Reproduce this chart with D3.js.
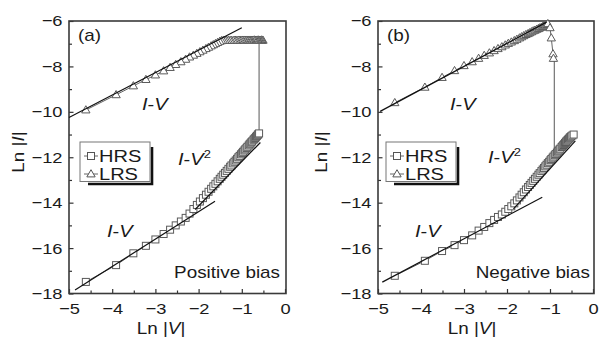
<!DOCTYPE html>
<html>
<head>
<meta charset="utf-8">
<script src="https://cdn.jsdelivr.net/npm/d3@7"></script>
<style>
  body { margin: 0; background: #fff; }
  svg text { font-family: "Liberation Sans", Arial, sans-serif; fill: #1a1a1a; }
</style>
</head>
<body>
<svg width="601" height="343"></svg>
<script>
// tick values shared by both panels
let xTicks = [-5, -4, -3, -2, -1, 0];
let xMinor = [-4.5, -3.5, -2.5, -1.5, -0.5];
let yTicks = [-18, -16, -14, -12, -10, -8, -6];
let yMinor = [-17, -15, -13, -11, -9, -7];

// (a) positive bias - HRS forward sweep (squares)
let aHrsX = [-4.61, -3.91, -3.51, -3.22, -3.00, -2.81, -2.66, -2.53, -2.41, -2.30, -2.21, -2.12, -2.04, -1.97, -1.90, -1.83, -1.77, -1.71, -1.66, -1.61,
  -1.56, -1.51, -1.47, -1.43, -1.39, -1.35, -1.31, -1.27, -1.24, -1.20, -1.17, -1.14, -1.11, -1.08, -1.05, -1.02, -0.99, -0.97,
  -0.94, -0.92, -0.89, -0.87, -0.84, -0.82, -0.80, -0.78, -0.76, -0.73, -0.71, -0.69, -0.67, -0.65, -0.63, -0.62, -0.60];
let aHrsY = [-17.49, -16.75, -16.23, -15.90, -15.62, -15.38, -15.19, -15.00, -14.83, -14.67, -14.48, -14.28, -14.10, -13.95, -13.80, -13.65, -13.52, -13.39, -13.28, -13.17,
  -13.06, -12.95, -12.86, -12.77, -12.69, -12.60, -12.51, -12.42, -12.36, -12.27, -12.20, -12.14, -12.07, -12.00, -11.94, -11.87, -11.81, -11.76,
  -11.70, -11.65, -11.59, -11.54, -11.48, -11.43, -11.39, -11.34, -11.30, -11.23, -11.19, -11.15, -11.10, -11.06, -11.01, -10.99, -10.95];
// (a) LRS return sweep (triangles)
let aLrsX = [-0.51, -0.53, -0.54, -0.56, -0.58, -0.60, -0.62, -0.63, -0.65, -0.67, -0.69, -0.71, -0.73, -0.76, -0.78, -0.80, -0.82, -0.84, -0.87, -0.89,
  -0.92, -0.94, -0.97, -0.99, -1.02, -1.05, -1.08, -1.11, -1.14, -1.17, -1.20, -1.24, -1.27, -1.31, -1.35, -1.39, -1.43, -1.47, -1.51, -1.56,
  -1.61, -1.66, -1.71, -1.77, -1.83, -1.90, -1.97, -2.04, -2.12, -2.21, -2.30, -2.41, -2.53, -2.66, -2.81, -3.00, -3.22, -3.51, -3.91, -4.61];
let aLrsY = [-6.85, -6.85, -6.84, -6.85, -6.85, -6.85, -6.84, -6.85, -6.85, -6.85, -6.85, -6.84, -6.85, -6.85, -6.85, -6.85, -6.85, -6.85, -6.85, -6.85,
  -6.85, -6.85, -6.85, -6.85, -6.85, -6.85, -6.85, -6.86, -6.85, -6.86, -6.86, -6.86, -6.86, -6.86, -6.86, -6.86, -6.86, -6.87, -6.90, -6.95,
  -7.00, -7.05, -7.10, -7.16, -7.22, -7.29, -7.36, -7.43, -7.51, -7.59, -7.69, -7.80, -7.92, -8.05, -8.20, -8.38, -8.58, -8.86, -9.25, -9.92];
let aSwitch = [[-0.60, -10.95], [-0.60, -6.85]];
let aFits = [
  [[-5.0, -10.25], [-1.0, -6.3]],
  [[-4.86, -17.85], [-1.62, -13.94]],
  [[-2.08, -14.3], [-0.57, -11.35]]
];

// (b) negative bias - HRS sweep (squares)
let bHrsX = [-4.61, -3.91, -3.51, -3.22, -3.00, -2.81, -2.66, -2.53, -2.41, -2.30, -2.21, -2.12, -2.04, -1.97, -1.90, -1.83, -1.77, -1.71, -1.66, -1.61,
  -1.56, -1.51, -1.47, -1.43, -1.39, -1.35, -1.31, -1.27, -1.24, -1.20, -1.17, -1.14, -1.11, -1.08, -1.05, -1.02, -0.99, -0.97, -0.94, -0.92,
  -0.89, -0.87, -0.84, -0.82, -0.80, -0.78, -0.76, -0.73, -0.71, -0.69, -0.67, -0.65, -0.63, -0.62, -0.60, -0.58, -0.56, -0.54, -0.53, -0.51,
  -0.48, -0.45];
let bHrsY = [-17.22, -16.56, -16.13, -15.87, -15.65, -15.44, -15.23, -15.07, -14.90, -14.76, -14.63, -14.52, -14.40, -14.28, -14.16, -14.03, -13.90, -13.77, -13.65, -13.54,
  -13.42, -13.31, -13.22, -13.13, -13.04, -12.95, -12.86, -12.77, -12.70, -12.61, -12.54, -12.47, -12.40, -12.33, -12.26, -12.20, -12.13, -12.08, -12.02, -11.97,
  -11.91, -11.86, -11.80, -11.75, -11.71, -11.66, -11.62, -11.55, -11.51, -11.46, -11.42, -11.37, -11.33, -11.30, -11.26, -11.22, -11.18, -11.14, -11.12, -11.08,
  -11.04, -11.00];
// (b) LRS sweep up to reset (triangles)
let bLrsX = [-4.61, -3.91, -3.51, -3.22, -3.00, -2.81, -2.66, -2.53, -2.41, -2.30, -2.21, -2.12, -2.04, -1.97, -1.90, -1.83, -1.77, -1.71, -1.66, -1.61, -1.56, -1.51, -1.47, -1.43, -1.39, -1.35, -1.31, -1.27, -1.24, -1.20, -1.17, -1.14, -1.11, -1.08, -1.05, -1.00, -0.97, -0.93, -0.92];
let bLrsY = [-9.60, -8.92, -8.49, -8.19, -7.97, -7.80, -7.65, -7.52, -7.41, -7.31, -7.22, -7.14, -7.06, -6.99, -6.93, -6.87, -6.81, -6.75, -6.70, -6.65, -6.60, -6.56, -6.52, -6.48, -6.44, -6.41, -6.37, -6.34, -6.31, -6.28, -6.25, -6.22, -6.19, -6.16, -6.12, -6.30, -6.75, -7.45, -7.65];
let bSwitch = [[-0.9, -7.65], [-0.9, -11.91]];
let bFits = [
  [[-4.95, -9.98], [-1.08, -6.05]],
  [[-4.9, -17.5], [-1.18, -13.76]],
  [[-1.85, -14.27], [-0.41, -11.28]]
];

let SX = 1.18; // source figure text is a bit stretched horizontally

let svg = d3.select("svg");

function txt(g, x, y, size, anchor) {
  return g.append("text")
    .attr("transform", "translate(" + x + "," + y + ") scale(" + SX + ",1)")
    .attr("font-size", size)
    .attr("text-anchor", anchor || "start");
}

function panel(opt) {
  let x = d3.scaleLinear().domain([-5, 0]).range([opt.left, opt.right]);
  let y = d3.scaleLinear().domain([-18, -6]).range([293.5, 21]);
  let g = svg.append("g");
  let fmt = d3.format("d");

  // axes, ticks pointing inward
  g.append("g").attr("transform", "translate(0,293.5)")
    .call(d3.axisBottom(x).tickValues(xTicks).tickFormat(fmt).tickSize(-4.5).tickPadding(9));
  g.append("g").attr("transform", "translate(0,293.5)")
    .call(d3.axisBottom(x).tickValues(xMinor).tickSize(-3).tickFormat(""));
  g.append("g").attr("transform", "translate(" + opt.left + ",0)")
    .call(d3.axisLeft(y).tickValues(yTicks).tickFormat(fmt).tickSize(-4.5).tickPadding(5.5));
  g.append("g").attr("transform", "translate(" + opt.left + ",0)")
    .call(d3.axisLeft(y).tickValues(yMinor).tickSize(-3).tickFormat(""));
  g.selectAll(".domain").remove();
  g.selectAll(".tick line").attr("stroke", "#333").attr("stroke-width", 1.2);
  g.selectAll(".tick text").attr("font-size", 15.5).attr("fill", "#1a1a1a")
    .attr("font-family", "Liberation Sans, Arial, sans-serif")
    .attr("transform", "scale(" + SX + ",1)");

  // frame
  g.append("rect")
    .attr("x", opt.left).attr("y", 21)
    .attr("width", opt.right - opt.left + 1).attr("height", 272.5)
    .attr("fill", "none").attr("stroke", "#3a3a3a").attr("stroke-width", 1.6);

  let line = d3.line().x(d => x(d[0])).y(d => y(d[1]));
  let hrs = d3.zip(opt.hrsX, opt.hrsY);
  let lrs = d3.zip(opt.lrsX, opt.lrsY);

  // connecting lines
  g.append("path").datum(hrs).attr("d", line)
    .attr("fill", "none").attr("stroke", "#666").attr("stroke-width", 1);
  g.append("path").datum(lrs).attr("d", line)
    .attr("fill", "none").attr("stroke", "#666").attr("stroke-width", 1);
  g.append("path").datum(opt.sw).attr("d", line)
    .attr("fill", "none").attr("stroke", "#666").attr("stroke-width", 1.1);

  // markers
  g.selectAll(".sq").data(hrs).enter().append("rect")
    .attr("x", d => x(d[0]) - 3.5).attr("y", d => y(d[1]) - 3.5)
    .attr("width", 7).attr("height", 7)
    .attr("fill", "#fff").attr("stroke", "#5a5a5a").attr("stroke-width", 1);
  let tri = d3.symbol().type(d3.symbolTriangle).size(30);
  g.selectAll(".tri").data(lrs).enter().append("path")
    .attr("d", tri)
    .attr("transform", d => "translate(" + x(d[0]) + "," + (y(d[1]) + 0.5) + ")")
    .attr("fill", "#fff").attr("stroke", "#5a5a5a").attr("stroke-width", 1);

  // fit lines
  g.selectAll(".fit").data(opt.fits).enter().append("path")
    .attr("d", line)
    .attr("fill", "none").attr("stroke", "#111").attr("stroke-width", 1.2);

  // axis titles
  let xl = txt(g, opt.xLabelX, 334, 16, "middle");
  xl.append("tspan").text("Ln |");
  xl.append("tspan").attr("font-style", "italic").text("V");
  xl.append("tspan").text("|");
  let yl = g.append("text")
    .attr("transform", "translate(" + opt.yLabelX + ",152) rotate(-90) scale(" + SX + ",1)")
    .attr("font-size", 16).attr("text-anchor", "middle");
  yl.append("tspan").text("Ln |");
  yl.append("tspan").attr("font-style", "italic").text("I");
  yl.append("tspan").text("|");

  // annotations
  txt(g, opt.left + 9, 41, 16).text(opt.tag);
  let iv = function (px, py, sq) {
    let t = txt(g, px, py, 17).attr("font-style", "italic");
    t.append("tspan").text("I");
    t.append("tspan").attr("font-style", "normal").text("-");
    t.append("tspan").text("V");
    if (sq) t.append("tspan").attr("font-style", "normal").attr("font-size", 11).attr("dy", -7).text("2");
  };
  iv(opt.iv1[0], opt.iv1[1], false);
  iv(opt.iv2[0], opt.iv2[1], true);
  iv(opt.iv3[0], opt.iv3[1], false);
  txt(g, opt.biasX, 278, 16, "end").text(opt.bias);

  // legend
  let L = opt.legX;
  g.append("path")
    .attr("d", "M" + (L + 72) + ",147 V184 H" + (L + 8))
    .attr("fill", "none").attr("stroke", "#111").attr("stroke-width", 2.6);
  g.append("rect").attr("x", L).attr("y", 142).attr("width", 70).attr("height", 39.5)
    .attr("fill", "#fff").attr("stroke", "#777").attr("stroke-width", 1);
  g.append("line").attr("x1", L + 4).attr("x2", L + 18).attr("y1", 156).attr("y2", 156)
    .attr("stroke", "#666").attr("stroke-width", 1);
  g.append("rect").attr("x", L + 7.5).attr("y", 152.5).attr("width", 7).attr("height", 7)
    .attr("fill", "#fff").attr("stroke", "#555").attr("stroke-width", 1);
  g.append("line").attr("x1", L + 4).attr("x2", L + 18).attr("y1", 174).attr("y2", 174)
    .attr("stroke", "#666").attr("stroke-width", 1);
  g.append("path").attr("d", tri)
    .attr("transform", "translate(" + (L + 11) + ",174.5)")
    .attr("fill", "#fff").attr("stroke", "#555").attr("stroke-width", 1);
  txt(g, L + 19, 162, 17).text("HRS");
  txt(g, L + 19, 180, 17).text("LRS");
}

panel({
  left: 69, right: 285, tag: "(a)",
  hrsX: aHrsX, hrsY: aHrsY, lrsX: aLrsX, lrsY: aLrsY, sw: aSwitch, fits: aFits,
  xLabelX: 161, yLabelX: 24, legX: 80,
  iv1: [142, 110], iv2: [178, 165], iv3: [107, 237],
  biasX: 280, bias: "Positive bias"
});
panel({
  left: 378, right: 593, tag: "(b)",
  hrsX: bHrsX, hrsY: bHrsY, lrsX: bLrsX, lrsY: bLrsY, sw: bSwitch, fits: bFits,
  xLabelX: 472, yLabelX: 327, legX: 386,
  iv1: [450, 110], iv2: [488, 163], iv3: [415, 237],
  biasX: 590, bias: "Negative bias"
});
</script>
</body>
</html>
